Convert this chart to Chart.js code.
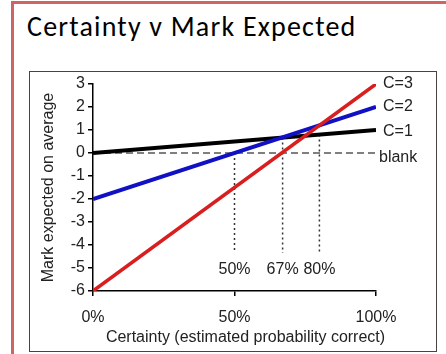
<!DOCTYPE html>
<html>
<head>
<meta charset="utf-8">
<script src="https://cdn.jsdelivr.net/npm/chart.js@4"></script>
<style>
  body { margin: 0; background: #fff; }
  #page { position: relative; width: 446px; height: 354px; overflow: hidden; }
  #frame { position: absolute; left: 11px; top: 1px; width: 460px; height: 380px;
           border-left: 3px solid #cf6464; border-top: 3px solid #cf6464; }
  #title { position: absolute; left: 27px; top: 9px; font-family: Carlito, Lato, sans-serif;
           font-size: 28px; letter-spacing: 1.2px; color: #000; white-space: nowrap; line-height: 36px; }
  #box { position: absolute; left: 29px; top: 71px; width: 406px; height: 279px;
         border: 1.5px solid #444; }
  canvas { position: absolute; left: 0; top: 0; }
</style>
</head>
<body>
<div id="page">
  <div id="frame"></div>
  <div id="title">Certainty v Mark Expected</div>
  <div id="box"></div>
  <canvas id="grafica" width="446" height="354"></canvas>
</div>
<script>
// datos
const certainty = [0, 100];
const markC3 = [-6, 3];
const markC2 = [-2, 2];
const markC1 = [0, 1];
const markBlank = [0, 0];
const seriesNames = ['C=3', 'C=2', 'C=1', 'blank'];
const breakEven = [50, 67, 80];
const guideTop = [0, 0.67, 0.8];
const guideBottom = -4.35;
const guideLabelAt = -5;
const xTicks = [0, 50, 100];
const yTicks = [-6, -5, -4, -3, -2, -1, 0, 1, 2, 3];

const textFont = "'Liberation Sans', Arial, sans-serif";
const textColor = '#222';

function puntos(ys) {
  return certainty.map((x, i) => ({ x: x, y: ys[i] }));
}

let datasets = [
  { data: puntos(markC3), borderColor: '#d81e1e', borderWidth: 3.5 },
  { data: puntos(markC2), borderColor: '#1010c4', borderWidth: 4 },
  { data: puntos(markC1), borderColor: '#000', borderWidth: 4 },
  { data: puntos(markBlank), borderColor: '#000', borderWidth: 1, borderDash: [7, 4] }
];
breakEven.forEach((x, i) => {
  datasets.push({
    data: [{ x: x, y: guideTop[i] }, { x: x, y: guideBottom }],
    borderColor: '#333', borderWidth: 1.5, borderDash: [2, 3]
  });
});

const etiquetas = {
  id: 'etiquetas',
  afterDatasetsDraw(chart) {
    const ctx = chart.ctx;
    const xs = chart.scales.x;
    const ys = chart.scales.y;
    const area = chart.chartArea;
    ctx.save();
    ctx.font = '16px ' + textFont;
    ctx.fillStyle = textColor;
    ctx.textBaseline = 'middle';

    // nombres de las series al final de cada linea
    const ends = [markC3[1], markC2[1], markC1[1], markBlank[1]];
    const dy = [0, 0, 2, 5];
    const dx = [7, 7, 7, 3];
    ends.forEach((v, i) => {
      ctx.textAlign = 'left';
      ctx.fillText(seriesNames[i], area.right + dx[i], ys.getPixelForValue(v) + dy[i]);
    });

    // porcentajes bajo las guias
    ctx.textAlign = 'center';
    breakEven.forEach(x => {
      ctx.fillText(x + '%', xs.getPixelForValue(x), ys.getPixelForValue(guideLabelAt) + 2);
    });

    // titulo del eje x
    ctx.fillText('Certainty (estimated probability correct)', area.left + (area.right - area.left) / 2 + 11, 338);
    ctx.restore();
  }
};

new Chart(document.getElementById('grafica'), {
  type: 'line',
  data: { datasets: datasets },
  plugins: [etiquetas],
  options: {
    responsive: false,
    animation: false,
    layout: { padding: { top: 84, right: 70, bottom: 0, left: 0 } },
    elements: { point: { radius: 0 }, line: { tension: 0, borderCapStyle: 'butt' } },
    plugins: { legend: { display: false }, tooltip: { enabled: false } },
    scales: {
      x: {
        type: 'linear', min: 0, max: 100,
        afterFit(scale) { scale.height = 63; },
        afterBuildTicks(scale) { scale.ticks = xTicks.map(v => ({ value: v })); },
        grid: { drawOnChartArea: false, tickLength: 5, color: '#000', lineWidth: 1.5 },
        border: { color: '#000', width: 1.5 },
        ticks: { padding: 12, color: textColor, font: { family: textFont, size: 16 },
                 maxRotation: 0, callback: v => v + '%' }
      },
      y: {
        type: 'linear', min: -6, max: 3,
        afterFit(scale) { scale.width = 93; },
        afterBuildTicks(scale) { scale.ticks = yTicks.map(v => ({ value: v })); },
        grid: { drawOnChartArea: false, tickLength: 5, color: '#000', lineWidth: 1.5 },
        border: { color: '#000', width: 1.5 },
        ticks: { padding: 3, color: textColor, font: { family: textFont, size: 16 } },
        title: { display: true, text: 'Mark expected on average', color: textColor,
                 font: { family: textFont, size: 16 }, padding: { top: 39, bottom: 0 } }
      }
    }
  }
});
</script>
</body>
</html>
